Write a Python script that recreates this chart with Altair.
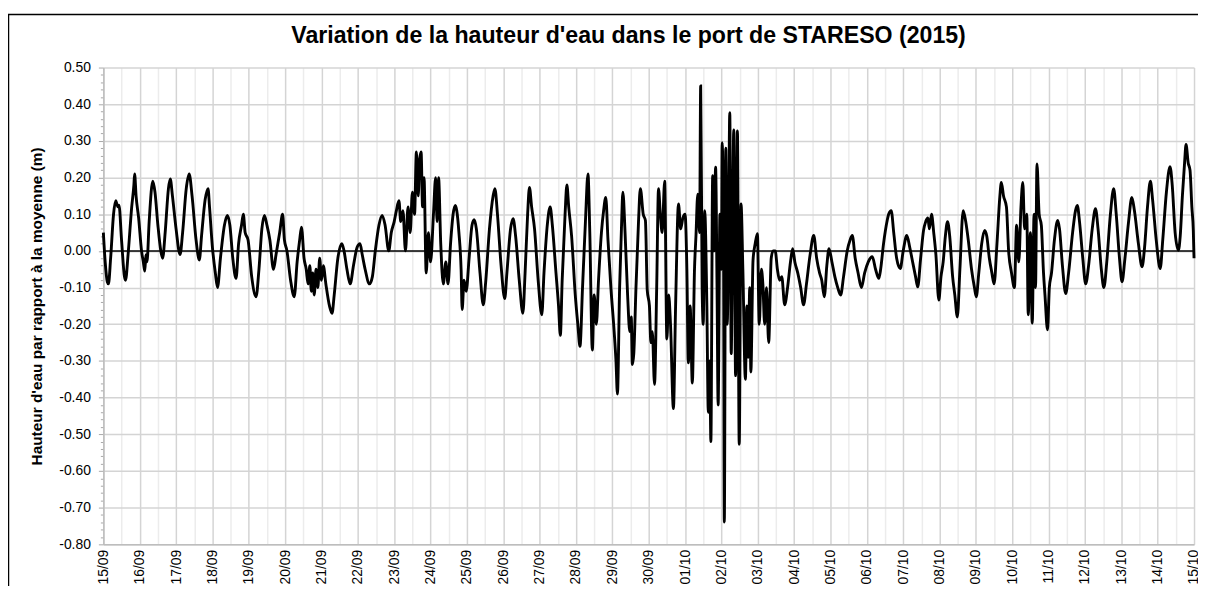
import altair as alt
import pandas as pd

# Water level (m, relative to mean) vs time in days since 15/09/2015 00:00
seg_15_22_sep = [
    (0.00, 0.05), (0.05, -0.03), (0.11, -0.085), (0.14, -0.09), (0.20, -0.02), (0.28, 0.10),
    (0.34, 0.137), (0.40, 0.12), (0.43, 0.125), (0.50, 0.03), (0.58, -0.07), (0.61, -0.08),
    (0.68, -0.01), (0.78, 0.12), (0.84, 0.18), (0.86, 0.21), (0.90, 0.15), (0.97, 0.09),
    (1.05, 0.00), (1.10, -0.03), (1.14, -0.055), (1.17, -0.01), (1.20, -0.03), (1.26, 0.08),
    (1.36, 0.19), (1.42, 0.16), (1.50, 0.07), (1.58, 0.00), (1.63, -0.02), (1.70, 0.05),
    (1.79, 0.17), (1.84, 0.196), (1.90, 0.15), (2.00, 0.06), (2.11, -0.01), (2.18, 0.05),
    (2.28, 0.17), (2.36, 0.21), (2.44, 0.15), (2.55, 0.03), (2.64, -0.025), (2.70, 0.04),
    (2.80, 0.14), (2.88, 0.17), (2.92, 0.12), (3.00, 0.01), (3.08, -0.06), (3.14, -0.10),
    (3.22, -0.02), (3.33, 0.07), (3.41, 0.097), (3.48, 0.07), (3.56, -0.02), (3.65, -0.075),
    (3.72, 0.02), (3.80, 0.07), (3.85, 0.10), (3.90, 0.05), (3.98, 0.03), (4.08, -0.07),
    (4.20, -0.125), (4.28, -0.05), (4.36, 0.06), (4.43, 0.097), (4.50, 0.07), (4.58, 0.03),
    (4.68, -0.05), (4.75, -0.01), (4.85, 0.05), (4.93, 0.10), (4.98, 0.03), (5.05, 0.00),
    (5.15, -0.08), (5.25, -0.125), (5.33, -0.03), (5.40, 0.03), (5.45, 0.065), (5.52, -0.02),
    (5.58, -0.05), (5.63, -0.09), (5.68, -0.04), (5.72, -0.11), (5.76, -0.06), (5.80, -0.12),
    (5.85, -0.05), (5.90, -0.10), (5.95, -0.02), (6.00, -0.08), (6.05, -0.04), (6.12, -0.09),
    (6.22, -0.15), (6.29, -0.17), (6.35, -0.12), (6.45, -0.02), (6.56, 0.02), (6.62, 0.00),
    (6.70, -0.05), (6.79, -0.09), (6.88, -0.04), (6.98, 0.01), (7.06, 0.02), (7.12, -0.01),
    (7.20, -0.05), (7.32, -0.09), (7.40, -0.07),
]

seg_22_29_sep = [
    (7.48, 0.00), (7.58, 0.07), (7.67, 0.097), (7.75, 0.07), (7.85, 0.00), (7.92, 0.05),
    (8.00, 0.08), (8.06, 0.11), (8.13, 0.137), (8.18, 0.08), (8.24, 0.11), (8.31, 0.00),
    (8.38, 0.12), (8.44, 0.05), (8.50, 0.16), (8.56, 0.10), (8.61, 0.27), (8.66, 0.15),
    (8.70, 0.25), (8.74, 0.27), (8.78, 0.12), (8.82, 0.20), (8.88, -0.06), (8.94, 0.05),
    (9.00, -0.03), (9.08, 0.10), (9.14, 0.20), (9.18, 0.08), (9.22, 0.20), (9.28, 0.02),
    (9.35, -0.09), (9.42, -0.03), (9.48, -0.09), (9.55, 0.02), (9.62, 0.10), (9.68, 0.124),
    (9.72, 0.11), (9.78, 0.05), (9.84, -0.05), (9.87, -0.16), (9.92, -0.08), (9.98, -0.11),
    (10.06, -0.02), (10.14, 0.07), (10.20, 0.085), (10.26, 0.06), (10.36, -0.06), (10.45, -0.147),
    (10.52, -0.08), (10.62, 0.06), (10.72, 0.15), (10.77, 0.17), (10.84, 0.10), (10.94, -0.04),
    (11.04, -0.13), (11.10, -0.06), (11.20, 0.06), (11.27, 0.088), (11.34, 0.04), (11.44, -0.08),
    (11.54, -0.17), (11.60, -0.06), (11.67, 0.10), (11.72, 0.173), (11.78, 0.12), (11.86, 0.06),
    (11.96, -0.08), (12.06, -0.174), (12.12, -0.06), (12.22, 0.08), (12.29, 0.12), (12.35, 0.07),
    (12.45, -0.06), (12.52, -0.15), (12.57, -0.23), (12.62, -0.08), (12.70, 0.10), (12.75, 0.18),
    (12.80, 0.12), (12.88, 0.04), (12.98, -0.12), (13.05, -0.20), (13.11, -0.26), (13.18, -0.10),
    (13.26, 0.08), (13.33, 0.21), (13.38, 0.05), (13.45, -0.27), (13.50, -0.12), (13.56, -0.20),
    (13.62, -0.08), (13.70, 0.05), (13.76, 0.11), (13.82, 0.146), (13.88, 0.03), (13.96, -0.10),
    (14.05, -0.22), (14.10, -0.30), (14.14, -0.39), (14.20, -0.10), (14.25, 0.06), (14.29, 0.16),
    (14.35, 0.05), (14.42, -0.12), (14.48, -0.22), (14.52, -0.18), (14.55, -0.31), (14.59, -0.28),
    (14.65, -0.10), (14.72, 0.08), (14.77, 0.17), (14.85, 0.10), (14.91, 0.083), (14.96, -0.107),
    (15.02, -0.15), (15.06, -0.25), (15.10, -0.22), (15.16, -0.364),
]

seg_30_sep_07_oct = [
    (15.22, -0.10), (15.27, 0.17), (15.32, 0.10), (15.37, 0.05), (15.44, 0.19), (15.50, -0.24),
    (15.55, -0.12), (15.60, -0.20), (15.68, -0.43), (15.74, -0.15), (15.82, 0.128), (15.88, 0.06),
    (15.94, 0.09), (16.00, 0.10), (16.05, -0.05), (16.09, -0.305), (16.14, -0.15), (16.20, -0.36),
    (16.26, -0.05), (16.30, 0.04), (16.35, 0.155), (16.40, 0.05), (16.43, 0.45), (16.47, -0.10),
    (16.50, -0.20), (16.54, 0.11), (16.60, -0.15), (16.64, -0.44), (16.68, -0.30), (16.71, -0.52),
    (16.76, 0.205), (16.80, 0.00), (16.84, 0.228), (16.88, -0.10), (16.91, -0.42), (16.96, 0.10),
    (17.00, -0.05), (17.02, 0.295), (17.06, 0.00), (17.08, -0.739), (17.12, 0.28), (17.16, -0.20),
    (17.20, 0.10), (17.23, 0.377), (17.27, -0.28), (17.31, 0.10), (17.34, 0.33), (17.39, -0.34),
    (17.44, 0.327), (17.49, -0.527), (17.54, 0.128), (17.59, -0.05), (17.66, -0.35), (17.70, -0.15),
    (17.74, -0.29), (17.78, -0.10), (17.81, -0.33), (17.87, -0.025), (17.93, 0.02), (17.99, 0.047),
    (18.04, -0.20), (18.10, -0.05), (18.14, -0.09), (18.19, -0.20), (18.24, -0.10), (18.30, -0.25),
    (18.37, -0.02), (18.42, 0.00), (18.48, 0.00), (18.54, -0.05), (18.60, -0.08), (18.66, -0.07),
    (18.74, -0.147), (18.82, -0.10), (18.90, -0.03), (18.96, 0.006), (19.02, -0.03), (19.10, -0.06),
    (19.18, -0.10), (19.26, -0.147), (19.34, -0.09), (19.44, -0.01), (19.54, 0.042), (19.62, -0.02),
    (19.70, -0.06), (19.76, -0.08), (19.83, -0.125), (19.90, -0.04), (19.96, 0.006), (20.04, -0.03),
    (20.12, -0.07), (20.20, -0.10), (20.28, -0.12), (20.36, -0.07), (20.46, 0.00), (20.54, 0.03),
    (20.60, 0.042), (20.68, -0.02), (20.76, -0.06), (20.85, -0.10), (20.94, -0.06), (21.04, -0.03),
    (21.15, -0.016), (21.24, -0.05), (21.33, -0.075), (21.38, -0.05), (21.46, 0.02), (21.56, 0.083),
    (21.60, 0.10), (21.67, 0.11), (21.74, 0.05), (21.82, -0.02), (21.92, -0.048), (22.00, 0.00),
    (22.10, 0.042), (22.18, 0.01), (22.26, -0.03), (22.34, -0.07), (22.40, -0.098),
]

seg_07_15_oct = [
    (22.48, -0.02), (22.56, 0.056), (22.62, 0.08), (22.68, 0.09), (22.72, 0.06), (22.78, 0.10),
    (22.84, 0.05), (22.90, -0.01), (22.98, -0.134), (23.04, -0.07), (23.10, -0.03), (23.16, 0.04),
    (23.22, 0.08), (23.28, 0.04), (23.36, -0.07), (23.42, -0.12), (23.49, -0.18), (23.56, -0.05),
    (23.65, 0.11), (23.72, 0.08), (23.79, 0.03), (23.88, -0.05), (23.96, -0.10), (24.01, -0.125),
    (24.08, -0.06), (24.16, 0.02), (24.24, 0.056), (24.30, 0.04), (24.37, -0.02), (24.44, -0.06),
    (24.50, -0.09), (24.58, 0.02), (24.66, 0.15), (24.70, 0.187), (24.76, 0.15), (24.84, 0.12),
    (24.90, 0.00), (24.98, -0.06), (25.06, -0.10), (25.12, 0.07), (25.18, -0.03), (25.24, 0.12),
    (25.29, 0.187), (25.34, 0.06), (25.40, 0.10), (25.44, -0.174), (25.50, 0.05), (25.55, -0.197),
    (25.60, 0.10), (25.64, -0.10), (25.68, 0.237), (25.74, 0.10), (25.80, 0.07), (25.86, -0.06),
    (25.90, -0.12), (25.97, -0.215), (26.02, -0.10), (26.08, -0.06), (26.16, 0.03), (26.25, 0.083),
    (26.30, 0.06), (26.38, -0.04), (26.47, -0.116), (26.55, -0.06), (26.66, 0.05), (26.74, 0.11),
    (26.79, 0.124), (26.85, 0.08), (26.94, -0.02), (27.02, -0.09), (27.10, -0.04), (27.20, 0.06),
    (27.29, 0.115), (27.36, 0.06), (27.45, -0.05), (27.52, -0.10), (27.60, -0.03), (27.70, 0.10),
    (27.79, 0.17), (27.86, 0.10), (27.95, -0.02), (28.02, -0.084), (28.10, -0.02), (28.20, 0.08),
    (28.29, 0.146), (28.36, 0.11), (28.47, 0.02), (28.57, -0.043), (28.64, 0.01), (28.72, 0.12),
    (28.80, 0.19), (28.86, 0.14), (28.96, 0.03), (29.07, -0.048), (29.14, 0.03), (29.24, 0.16),
    (29.34, 0.23), (29.40, 0.18), (29.48, 0.05), (29.57, 0.002), (29.62, 0.04), (29.68, 0.15),
    (29.74, 0.24), (29.78, 0.29), (29.84, 0.24), (29.89, 0.22), (29.94, 0.12), (29.98, 0.056),
    (30.00, -0.02),
]

title_text = "Variation de la hauteur d'eau dans le port de STARESO (2015)"
y_title = "Hauteur d'eau par rapport à la moyenne (m)"

x_ticks = [i * 0.5 for i in range(61)]                          # day + half-day grid
y_ticks = [round(-0.8 + 0.02 * i, 2) + 0.0 for i in range(66)]  # 0.02 minor steps

rows = seg_15_22_sep + seg_22_29_sep + seg_30_sep_07_oct + seg_07_15_oct
df = pd.DataFrame(rows, columns=["t", "h"]).sort_values("t")

FONT = "Liberation Sans"
major_y = "abs(datum.value*10 - round(datum.value*10)) < 0.001"

x_scale = alt.Scale(domain=[0, 30], nice=False, zero=False)
y_scale = alt.Scale(domain=[-0.8, 0.5], nice=False, zero=False)

x_axis = alt.Axis(
    values=x_ticks,
    labelExpr="datum.value % 1 == 0 ? timeFormat(datetime(2015, 8, 15 + datum.value), '%d/%m') : ''",
    labelAngle=270, labelFontSize=14, labelFont=FONT, labelColor="black",
    labelPadding=5, labelFlush=False, labelOverlap=False, labelBound=False,
    ticks=False, domainColor="#bdbdbd", domainWidth=1.5,
    gridColor={"condition": {"test": "datum.value % 1 != 0", "value": "#ececec"}, "value": "#d4d4d4"},
    gridWidth=1.5, title=None,
)
y_axis = alt.Axis(
    values=y_ticks,
    labelExpr=major_y + " ? replace(format(datum.value, '.2f'), '\u2212', '-') : ''",
    labelFontSize=14, labelFont=FONT, labelColor="black", labelPadding=8,
    labelOverlap=False, labelFlush=False,
    tickColor="#a8a8a8", tickWidth=1,
    tickSize={"condition": {"test": major_y, "value": 5}, "value": 3},
    domainColor="#bdbdbd", domainWidth=1.5,
    gridColor={"condition": {"test": major_y, "value": "#d4d4d4"}, "value": "transparent"},
    gridWidth=1.5,
    title=y_title,
    titleFont=FONT, titleFontSize=15.5, titleFontWeight="bold", titleColor="black",
    titlePadding=14,
)

line = alt.Chart(df).mark_line(color="black", strokeWidth=2.9, interpolate="monotone").encode(
    x=alt.X("t:Q", scale=x_scale, axis=x_axis),
    y=alt.Y("h:Q", scale=y_scale, axis=y_axis),
)

zero = alt.Chart(pd.DataFrame({"h": [0.0]})).mark_rule(color="black", strokeWidth=1.5).encode(
    y=alt.Y("h:Q", scale=y_scale, axis=y_axis),
)

frame = alt.Chart(pd.DataFrame({"a": [0]})).mark_rect(
    fill="transparent", stroke="black", strokeWidth=1.5
).encode(
    x=alt.value(-95.5), x2=alt.value(1200), y=alt.value(-53.5), y2=alt.value(600),
)

title = alt.Chart(pd.DataFrame({"title": [title_text]})).mark_text(
    font=FONT, fontSize=23.3, fontWeight="bold", color="black", align="center", baseline="alphabetic"
).encode(
    text="title:N", x=alt.value(528.7), y=alt.value(-24.3),
)

chart = alt.layer(frame, line, zero, title).properties(
    width=1098,
    height=480,
    padding={"left": 96, "top": 58, "right": 4, "bottom": 40},
    autosize=alt.AutoSizeParams(type="none"),
).configure_view(stroke="transparent")

chart.save("out.html", embed_options={"renderer": "svg", "actions": False})
